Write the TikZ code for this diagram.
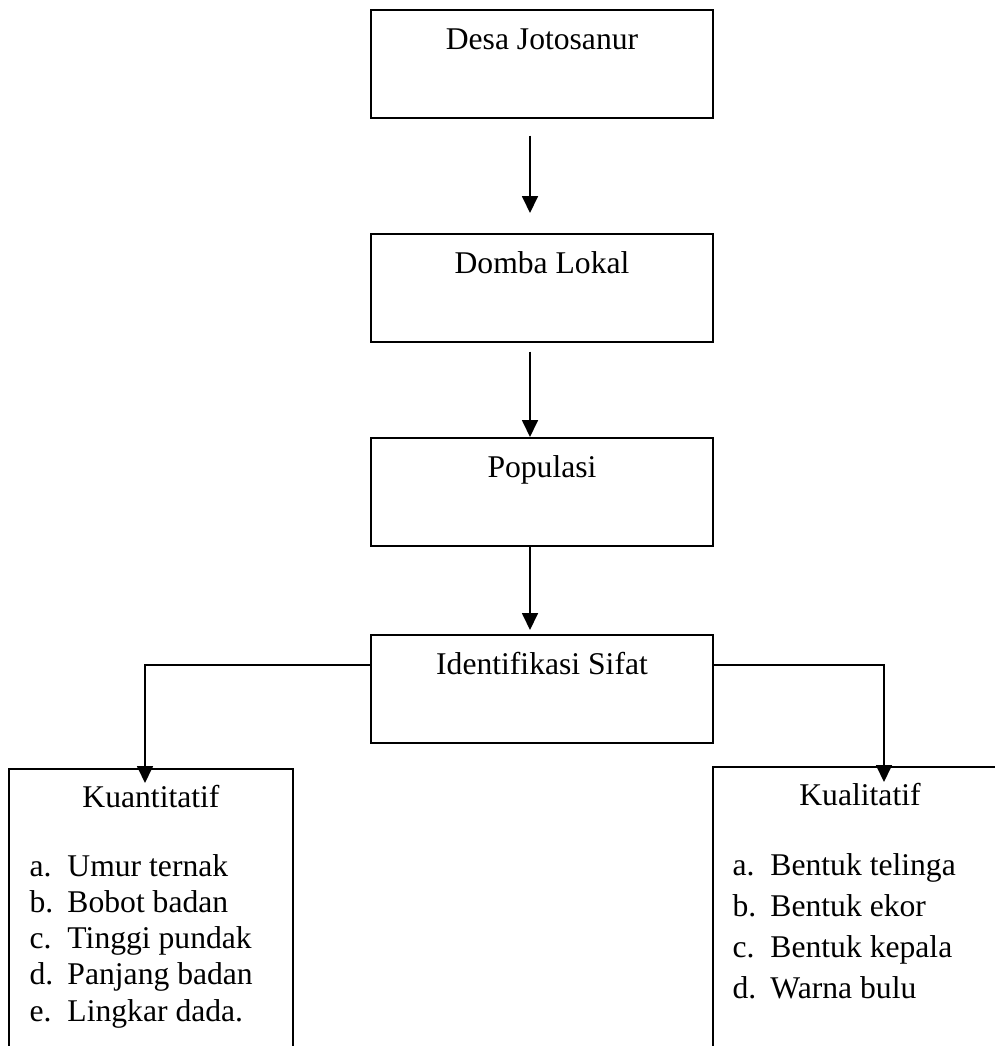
\documentclass[tikz,border=0pt]{standalone}
\usepackage{fontspec}
\setmainfont{Liberation Serif}
\usepackage{tikz}
\usetikzlibrary{arrows.meta}
\usetikzlibrary{calc}

\tikzset{
  kotak/.style={draw,line width=1pt,minimum width=6.84cm,inner sep=0pt,text height=0.8cm,text depth=1.36cm,anchor=north,font=\fontsize{18}{21}\selectfont},
  daftar/.style={align=left,inner sep=0pt,anchor=base west},
  panah/.style={line width=1pt,-{Triangle[length=0.34cm,width=0.32cm]}}
}

\begin{document}
\begin{tikzpicture}[x=0.02cm,y=-0.02cm]
        \useasboundingbox (0,0) rectangle (995,1046);
        \clip (0,0) rectangle (995,1046);

        \node[kotak] (desa) at (542,9) {Desa Jotosanur};
        \node[kotak] (domba) at (542,233) {Domba Lokal};
        \node[kotak] (populasi) at (542,437) {Populasi};
        \node[kotak] (sifat) at (542,634) {Identifikasi Sifat};
        \node[kotak,minimum width=5.68cm,text height=0.78cm,text depth=6cm] (kuanti) at (151,768) {Kuantitatif};
        \node[kotak,minimum width=5.88cm,text height=0.78cm,text depth=6cm] (kuali) at (860,766) {Kualitatif};

        % base of a list = baseline of its last line
        \node[daftar,font=\fontsize{18}{20.5}\selectfont] (kuantilist) at ($(kuanti.north west)+(21,253)$)
            {\makebox[0.76cm][l]{a.}Umur ternak\\ \makebox[0.76cm][l]{b.}Bobot badan\\ \makebox[0.76cm][l]{c.}Tinggi pundak\\
             \makebox[0.76cm][l]{d.}Panjang badan\\ \makebox[0.76cm][l]{e.}Lingkar dada.};
        \node[daftar,font=\fontsize{18}{23.3}\selectfont] (kualilist) at ($(kuali.north west)+(20,232)$)
            {\makebox[0.76cm][l]{a.}Bentuk telinga\\ \makebox[0.76cm][l]{b.}Bentuk ekor\\ \makebox[0.76cm][l]{c.}Bentuk kepala\\
             \makebox[0.76cm][l]{d.}Warna bulu};

        \draw[panah,shorten <=0.34cm,shorten >=0.4cm] ([xshift=-0.24cm]desa.south) -- ([xshift=-0.24cm]domba.north);
        \draw[panah,shorten <=0.18cm] ([xshift=-0.24cm]domba.south) -- ([xshift=-0.24cm]populasi.north);
        \draw[panah,shorten >=0.08cm] ([xshift=-0.24cm]populasi.south) -- ([xshift=-0.24cm]sifat.north);
        \draw[panah,shorten >=-0.3cm] ([yshift=-0.62cm]sifat.north west) -| ([xshift=-0.12cm]kuanti.north);
        \draw[panah,shorten >=-0.32cm] ([yshift=-0.62cm]sifat.north east) -| ([xshift=0.48cm]kuali.north);
    \end{tikzpicture}
\end{document}
